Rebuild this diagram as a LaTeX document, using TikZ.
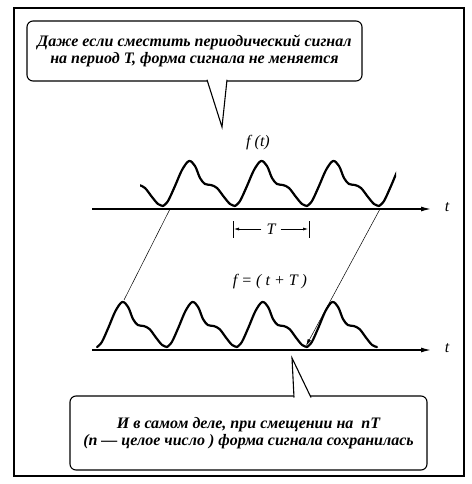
\documentclass[tikz,border=0pt]{standalone}
\usepackage{fontspec}
\setmainfont{Liberation Serif}
\usetikzlibrary{arrows.meta}

\tikzset{
  wave/.style={line width=2.2pt, line join=round, line cap=round},
  axis/.style={line width=1.3pt, -{Latex[length=10pt, width=5pt]}},
  bubble/.style={draw, line width=1.1pt, rounded corners=6pt, fill=white,
    align=center, inner sep=0pt, font=\bfseries\itshape\fontsize{16}{17}\selectfont},
  lbl/.style={inner sep=0pt, font=\itshape\fontsize{16}{18}\selectfont},
  cell/.pic={\draw[wave] plot[smooth, tension=0.55] coordinates {(0,0) (5,-5) (12,-20) (19,-36) (26,-45) (32,-40) (37,-28) (42,-22) (48,-21) (54,-18) (61,-9) (67,-2) (72,0)};}
}

\begin{document}
\begin{tikzpicture}[x=1pt, y=-1pt]
        \useasboundingbox (0,0) rectangle (471,484);
        \draw[line width=1.4pt] (14,8) rectangle (464,476);
        % The two speech bubbles.
            \node[bubble, minimum width=335pt, minimum height=60pt] (topnote) at (194.5,51)
                {Даже если сместить периодический сигнал\\на период \textit{T}, форма сигнала не меняется};
            \node[bubble, minimum width=357pt, minimum height=74pt] (botnote) at (248.5,433)
                {И в самом деле, при смещении на \ \textit{nT}\\(\textit{n} — целое число ) форма сигнала сохранилась};
            \coordinate (tipA) at (222,127);
            \coordinate (tipB) at (292,358);
            \draw[line width=1.1pt, fill=white] (207,79.8) -- (tipA) -- (227,79.8);
            \draw[line width=1.1pt, fill=white] (294,397.5) -- (tipB) -- (311,397.5);
        % Time axes.
            \coordinate (axAs) at (92,209);
            \coordinate (axAe) at (431,209);
            \coordinate (axBs) at (92,350);
            \coordinate (axBe) at (431,350);
            \draw[axis] (axAs) -- (axAe);
            \draw[axis] (axBs) -- (axBe);
        % The signal f(t), one pic per period.
            \begin{scope}
                \clip (140,100) rectangle (396,215);
                \foreach \x in {91,163,235,307,379}
                    \pic at (\x,206) {cell};
            \end{scope}
        % The shifted signal.
            \foreach \x in {97,167,237,307}
                \pic[xscale=0.972] at (\x,347) {cell};
        % Below nodes are the labels.
            \node[lbl] (ft) at (258,143) {f (t)};
            \node[lbl] (ftT) at (270,282) {f = ( t + T )};
            \node[lbl] (per) at (271,229) {T};
            \node[lbl] (tA) at (447,207) {t};
            \node[lbl] (tB) at (447,348) {t};
        % The period T between two troughs.
            \draw[line width=0.9pt] (233,221) -- (233,238);
            \draw[line width=0.9pt] (309,221) -- (309,238);
            \coordinate (pl) at (234,229);
            \coordinate (pr) at (308,229);
            \draw[line width=0.6pt, -{Latex[length=5pt, width=3pt]}] (per.west) ++(-5,0) -- (pl);
            \draw[line width=0.6pt, -{Latex[length=5pt, width=3pt]}] (per.east) ++(5,0) -- (pr);
        % Thin lines from the first signal to the shifted one.
            \coordinate (dA) at (170,209);
            \coordinate (dB) at (124,300);
            \coordinate (dC) at (380,209);
            \coordinate (dD) at (306,346);
            \draw[line width=0.5pt] (dA) -- (dB);
            \draw[line width=0.5pt, -{Latex[length=7pt, width=3.5pt]}] (dC) -- (dD);
    \end{tikzpicture}
\end{document}
